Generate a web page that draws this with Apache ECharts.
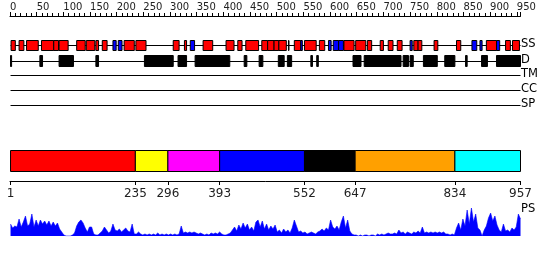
<!DOCTYPE html>
<html><head><meta charset="utf-8">
<script src="https://cdn.jsdelivr.net/npm/echarts@6/dist/echarts.min.js"></script>
<style>html,body{margin:0;padding:0;background:#fff}#c{width:550px;height:260px}</style>
</head><body><div id="c"></div>
<script>
// ---------------- data ----------------
const seqLength = 957;
const trackNames = ['SS', 'D', 'TM', 'CC', 'SP'];
const ssHelix = [[2,10],[17,26],[31,53],[59,82],[82,91],[92,109],[125,141],[143,159],[161,166],[173,182],[214,233],[236,255],[306,317],[327,331],[362,380],[405,420],[427,435],[442,466],[472,483],[483,495],[495,504],[504,518],[522,523],[533,545],[552,574],[580,590],[626,645],[648,667],[670,678],[694,700],[709,718],[726,735],[757,765],[765,772],[795,802],[837,845],[893,912],[929,938],[942,955]];
const ssStrand = [[193,199],[203,210],[338,346],[545,548],[597,602],[606,616],[616,625],[750,754],[866,875],[881,885],[912,918]];
const disorder = [[1,3],[56,61],[92,119],[161,166],[252,306],[315,331],[347,412],[439,444],[467,474],[503,514],[520,528],[564,567],[575,578],[643,658],[664,733],[737,747],[750,756],[775,801],[815,834],[854,857],[884,895],[912,957]];
const domainBounds = [1, 235, 296, 393, 552, 647, 834, 957];
const psStart = 1, psStep = 4;
const psValues = [
  12,8,10,9,17,9,14,20,10,12,22,9,16,10,16,12,15,11,15,10,
  14,10,13,7,4,1,0,0,0,1,3,10,14,16,13,8,4,9,9,2,
  1,1,3,5,9,6,3,5,12,6,5,7,4,6,8,5,4,12,2,2,
  4,2,1,2,1,2,1,2,1,3,1,2,1,2,1,2,1,2,1,2,
  10,3,4,3,4,3,4,3,2,3,2,1,2,1,3,2,3,2,4,2,
  1,1,2,3,6,9,5,11,7,13,8,12,6,9,5,14,16,9,15,7,
  12,6,10,7,11,4,6,3,7,4,6,3,8,16,10,4,5,3,4,2,
  3,4,3,2,4,5,7,5,8,6,16,9,7,10,6,14,20,8,16,5,
  2,1,1,0,1,0,1,1,0,1,1,0,2,1,2,1,2,3,2,2,
  3,2,6,3,4,2,4,3,2,4,3,5,3,9,3,4,3,4,3,4,
  3,4,3,4,2,2,1,2,1,8,13,6,17,10,26,12,28,14,22,8,
  6,0,6,10,18,23,15,20,11,6,4,12,5,6,4,8,6,9,22,17
];
const rulerLabelStep = 50, rulerMinorSplit = 5;

// ---------------- styles / layout ----------------
const domainColors = ['#ff0000','#ffff00','#ff00ff','#0000ff','#000000','#ffa000','#00ffff'];
const FONT = 'DejaVu Sans';
const rows = { ssTop: 40.5, ssBot: 50.5, ssLine: 45.5, dTop: 55.5, dBot: 66.5, dLine: 61.5,
               lines: [75.5, 90.5, 105.5], domTop: 150.5, domBot: 171.5 };
const labelY = { SS: 45.5, D: 61.5, TM: 75.5, CC: 90.5, SP: 105.5, PS: 211 };

const chart = echarts.init(document.getElementById('c'), null, {renderer: 'canvas'});

function xAxisBase(i, extra) {
  return Object.assign({ gridIndex: i, type: 'value', min: 0, max: seqLength, show: false }, extra || {});
}
function boxSeries(data, top, bot, color) {
  return {
    type: 'custom', xAxisIndex: 1, yAxisIndex: 1, clip: false, silent: true,
    data: data, encode: { x: [0, 1] },
    renderItem: function (params, api) {
      const a = api.coord([api.value(0), top]);
      const b = api.coord([api.value(1), bot]);
      return { type: 'rect', shape: { x: a[0], y: a[1], width: Math.max(b[0] - a[0], 0.5), height: b[1] - a[1] },
               style: { fill: color, stroke: '#000', lineWidth: 1 } };
    }
  };
}
const lineYs = [rows.ssLine, rows.dLine].concat(rows.lines);
const lineSeries = {
  type: 'custom', xAxisIndex: 1, yAxisIndex: 1, clip: false, silent: true, z: 1,
  data: lineYs.map(function (y, i) { return [1, seqLength, i]; }),
  renderItem: function (params, api) {
    const y = lineYs[api.value(2)];
    const a = api.coord([api.value(0), y]);
    const b = api.coord([api.value(1), y]);
    return { type: 'line', shape: { x1: a[0], y1: a[1], x2: b[0], y2: b[1] }, style: { stroke: '#000', lineWidth: 1 } };
  }
};
const domainData = [];
for (let i = 0; i < domainBounds.length - 1; i++) domainData.push([domainBounds[i], domainBounds[i + 1], i]);
const domainSeries = {
  type: 'custom', xAxisIndex: 1, yAxisIndex: 1, clip: false, silent: true, z: 3,
  data: domainData, encode: { x: [0, 1] },
  renderItem: function (params, api) {
    const a = api.coord([api.value(0), rows.domTop]);
    const b = api.coord([api.value(1), rows.domBot]);
    return { type: 'rect', shape: { x: a[0], y: a[1], width: b[0] - a[0], height: b[1] - a[1] },
             style: { fill: domainColors[api.value(2)], stroke: '#000', lineWidth: 1 } };
  }
};
const psData = psValues.map(function (v, i) { return [Math.min(psStart + i * psStep, seqLength), v]; });

const texts = Object.keys(labelY).map(function (k) {
  return { type: 'text', left: 521, top: labelY[k] - 7.5, style: { text: k, font: '11.5px "' + FONT + '"', fill: '#000' } };
});

chart.setOption({
  animation: false,
  backgroundColor: '#fff',
  grid: [
    { left: 10, right: 29.5, top: 15, height: 1, outerBoundsMode: 'none' },
    { left: 10, right: 29.5, top: 0, height: 260, outerBoundsMode: 'none' },
    { left: 10, right: 29.5, top: 170, height: 11, outerBoundsMode: 'none' },
    { left: 10, right: 29.5, top: 206, height: 30, outerBoundsMode: 'none' }
  ],
  xAxis: [
    xAxisBase(0, { show: true, position: 'top', interval: rulerLabelStep,
      axisLine: { show: true, lineStyle: { color: '#000', width: 1 } },
      axisTick: { show: true, length: 4, lineStyle: { color: '#000' } },
      minorTick: { show: true, splitNumber: rulerMinorSplit, length: 3, lineStyle: { color: '#000' } },
      splitLine: { show: false }, minorSplitLine: { show: false },
      axisLabel: { show: true, showMaxLabel: false, align: 'left', margin: 3, color: '#222', fontFamily: FONT, fontSize: 10 } }),
    xAxisBase(1),
    xAxisBase(2, { show: true, position: 'bottom',
      axisLine: { show: true, lineStyle: { color: '#000', width: 1 } },
      axisTick: { show: true, length: 4, customValues: domainBounds, lineStyle: { color: '#000' } },
      splitLine: { show: false },
      axisLabel: { show: true, customValues: domainBounds, margin: 7, color: '#222', fontFamily: FONT, fontSize: 12 } }),
    xAxisBase(3)
  ],
  yAxis: [
    { gridIndex: 0, type: 'value', show: false },
    { gridIndex: 1, type: 'value', min: 0, max: 260, inverse: true, show: false },
    { gridIndex: 2, type: 'value', show: false },
    { gridIndex: 3, type: 'value', min: 0, max: 30, show: false }
  ],
  graphic: texts,
  series: [
    lineSeries,
    boxSeries(ssHelix, rows.ssTop, rows.ssBot, '#ff0000'),
    boxSeries(ssStrand, rows.ssTop, rows.ssBot, '#0000ff'),
    boxSeries(disorder, rows.dTop, rows.dBot, '#000000'),
    domainSeries,
    { type: 'line', xAxisIndex: 3, yAxisIndex: 3, data: psData, symbol: 'none', silent: true,
      lineStyle: { color: '#0000ff', width: 0.6 }, areaStyle: { color: '#0000ff', opacity: 1 } }
  ]
});
</script></body></html>
